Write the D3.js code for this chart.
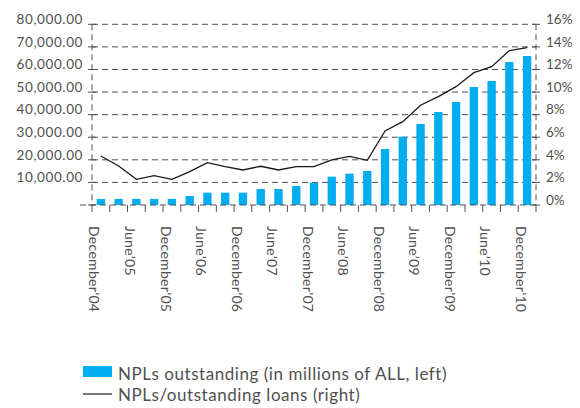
<!DOCTYPE html>
<html>
<head>
<meta charset="utf-8">
<script src="https://cdn.jsdelivr.net/npm/d3@7"></script>
<style>
  html, body { margin: 0; padding: 0; background: #fff; }
  svg text { font-family: Lato, "Open Sans", sans-serif; fill: #505050; }
</style>
</head>
<body>
<svg id="chart" width="580" height="408"></svg>
<script>
// Quarterly periods, December 2004 – December 2010
const quarters = [
  "December’04", "March’05", "June’05", "September’05",
  "December’05", "March’06", "June’06", "September’06",
  "December’06", "March’07", "June’07", "September’07",
  "December’07", "March’08", "June’08", "September’08",
  "December’08", "March’09", "June’09", "September’09",
  "December’09", "March’10", "June’10", "September’10",
  "December’10"
];
// NPLs outstanding, millions of ALL (left axis)
const nplAmount = [
  2650, 2700, 2700, 2700, 2700, 3980, 5460, 5460, 5460, 7080,
  7080, 8400, 9880, 12540, 13870, 15050, 24790, 30250, 35860, 41170,
  45600, 52240, 54900, 63300, 65970
];
// NPLs / outstanding loans, % (right axis)
const nplRatio = [
  4.34, 3.45, 2.27, 2.6, 2.27, 2.95, 3.75, 3.4, 3.1, 3.43,
  3.1, 3.4, 3.4, 3.99, 4.31, 3.96, 6.55, 7.38, 8.83, 9.6,
  10.48, 11.72, 12.25, 13.67, 13.93
];
const leftTicks = [10000, 20000, 30000, 40000, 50000, 60000, 70000, 80000];
const rightTicks = [0, 2, 4, 6, 8, 10, 12, 14, 16];
const seriesNames = ["NPLs outstanding (in millions of ALL, left)", "NPLs/outstanding loans (right)"];

const svg = d3.select("#chart");
const plot = { left: 92, right: 536, top: 24.3, bottom: 205 };

const x = d3.scaleBand()
  .domain(quarters)
  .range([plot.left, plot.right])
  .paddingInner(0.53)
  .paddingOuter(0.265);
const step = x.step();
const yL = d3.scaleLinear().domain([0, 80000]).range([plot.bottom, plot.top]);
const yR = d3.scaleLinear().domain([0, 16]).range([plot.bottom, plot.top]);

const gridColor = "#505050";
const dash = "6,4";

// Horizontal dashed gridlines
svg.append("g").selectAll("line")
  .data(leftTicks)
  .join("line")
  .attr("x1", plot.left).attr("x2", plot.right)
  .attr("y1", d => yL(d)).attr("y2", d => yL(d))
  .attr("stroke", gridColor).attr("stroke-width", 1)
  .attr("stroke-dasharray", dash);

// Bars
svg.append("g").selectAll("rect")
  .data(nplAmount)
  .join("rect")
  .attr("x", (d, i) => x(quarters[i]))
  .attr("width", x.bandwidth())
  .attr("y", d => yL(d))
  .attr("height", d => yL(0) - yL(d))
  .attr("fill", "#00aeef");

// Zero line (dashed, running slightly past the left axis)
svg.append("line")
  .attr("x1", plot.left - 12).attr("x2", plot.right)
  .attr("y1", yL(0)).attr("y2", yL(0))
  .attr("stroke", gridColor).attr("stroke-dasharray", dash);

// Vertical dashed axes
[plot.left, plot.right].forEach(xx => {
  svg.append("line")
    .attr("x1", xx).attr("x2", xx)
    .attr("y1", plot.top).attr("y2", plot.bottom)
    .attr("stroke", gridColor).attr("stroke-dasharray", dash);
});

// Left axis ticks and labels
const fmt = d3.format(",.2f");
const gL = svg.append("g");
gL.selectAll("line")
  .data([0].concat(leftTicks))
  .join("line")
  .attr("x1", plot.left - 4).attr("x2", plot.left + 4)
  .attr("y1", d => yL(d)).attr("y2", d => yL(d))
  .attr("stroke", gridColor);
gL.selectAll("text")
  .data(leftTicks)
  .join("text")
  .attr("x", 83)
  .attr("y", d => yL(d) - 5)
  .attr("dy", "0.35em")
  .attr("text-anchor", "end")
  .attr("font-size", 13.5)
  .attr("letter-spacing", 0.6)
  .text(d => fmt(d));

// Right axis ticks and labels
const gR = svg.append("g");
gR.selectAll("line")
  .data(rightTicks)
  .join("line")
  .attr("x1", plot.right - 4).attr("x2", plot.right + 4)
  .attr("y1", d => yR(d)).attr("y2", d => yR(d))
  .attr("stroke", gridColor);
gR.selectAll("text")
  .data(rightTicks)
  .join("text")
  .attr("x", 546)
  .attr("y", d => yR(d) - 5)
  .attr("dy", "0.35em")
  .attr("font-size", 13.5)
  .text(d => d + "%");

// Category boundary ticks below the axis
svg.append("g").selectAll("line")
  .data(d3.range(quarters.length + 1))
  .join("line")
  .attr("x1", i => plot.left + i * step).attr("x2", i => plot.left + i * step)
  .attr("y1", plot.bottom).attr("y2", plot.bottom + 7)
  .attr("stroke", gridColor);

// Category labels (every second quarter), rotated to read downward
svg.append("g").selectAll("text")
  .data(quarters.filter((q, i) => i % 2 === 0))
  .join("text")
  .attr("transform", d => `translate(${x(d) + x.bandwidth() / 2 - 6.5},226) rotate(90)`)
  .attr("dy", "0.35em")
  .attr("font-size", 14)
  .attr("letter-spacing", 0.3)
  .text(d => d);

// Ratio line
const line = d3.line()
  .x((d, i) => x(quarters[i]) + x.bandwidth() / 2)
  .y(d => yR(d));
svg.append("path")
  .datum(nplRatio)
  .attr("d", line)
  .attr("fill", "none")
  .attr("stroke", "#1a1a1a")
  .attr("stroke-width", 1.3);

// Legend
const lg = svg.append("g");
lg.append("rect")
  .attr("x", 83).attr("y", 366).attr("width", 29).attr("height", 11)
  .attr("fill", "#00aeef");
lg.append("text")
  .attr("x", 118).attr("y", 380)
  .attr("font-size", 17)
  .attr("letter-spacing", 0.55)
  .text(seriesNames[0]);
lg.append("line")
  .attr("x1", 83).attr("x2", 112).attr("y1", 394).attr("y2", 394)
  .attr("stroke", "#1a1a1a").attr("stroke-width", 1.2);
lg.append("text")
  .attr("x", 118).attr("y", 401)
  .attr("font-size", 17)
  .attr("letter-spacing", 0.55)
  .text(seriesNames[1]);
</script>
</body>
</html>
